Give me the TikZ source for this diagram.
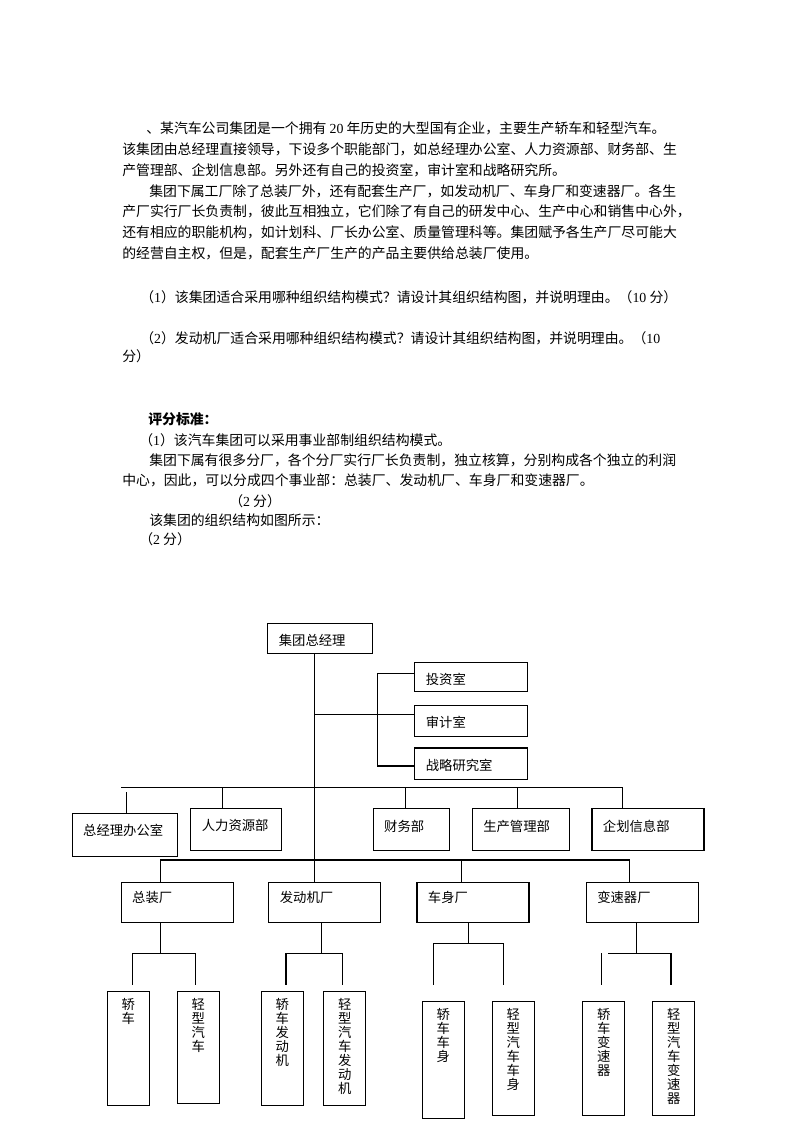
\documentclass[tikz,border=0pt]{standalone}
\usepackage{fontspec}
\setmainfont{Noto Sans CJK SC}
\newfontfamily\lat{Liberation Serif}
\usetikzlibrary{positioning}

\newcommand\bodyfont{\fontsize{10.4pt}{12pt}\selectfont}
\newcommand\boxfont{\fontsize{10pt}{12pt}\selectfont}
\newcommand\colfont{\fontsize{10pt}{10.5pt}\selectfont}

\tikzset{
  link/.style={line width=0.8pt, line cap=rect},
  txt/.style={anchor=base west, inner sep=0pt, font=\bodyfont},
  box/.code n args={3}{%
    \pgfmathsetlengthmacro\boxw{(#1-22)*0.75pt}%
    \pgfmathsetlengthmacro\boxht{#3*0.75pt}%
    \pgfmathsetlengthmacro\boxdp{(#2-#3)*0.75pt}%
    \tikzset{draw, line width=0.8pt, anchor=north west, inner xsep=8.25pt,
      inner ysep=0pt, align=left, font=\boxfont,
      text width=\boxw, text height=\boxht, text depth=\boxdp}},
  col/.code={%
    \pgfmathsetlengthmacro\boxdp{(#1-17.5)*0.75pt}%
    \tikzset{draw, line width=0.8pt, anchor=north west, inner sep=0pt,
      align=center, font=\colfont, text width=31.5pt,
      text height=13.125pt, text depth=\boxdp}},
}

\begin{document}
\begin{tikzpicture}[x=0.75pt,y=-0.75pt]
\useasboundingbox (0,0) rectangle (793,1122);

% question text
\node[txt] (t_1) at (146,133.3) {、某汽车公司集团是一个拥有 {\lat 20} 年历史的大型国有企业，主要生产轿车和轻型汽车。};
\node[txt] (t_2) at (122,154.2) {该集团由总经理直接领导，下设多个职能部门，如总经理办公室、人力资源部、财务部、生};
\node[txt] (t_3) at (122,175.1) {产管理部、企划信息部。另外还有自己的投资室，审计室和战略研究所。};
\node[txt] (t_4) at (149,196) {集团下属工厂除了总装厂外，还有配套生产厂，如发动机厂、车身厂和变速器厂。各生};
\node[txt] (t_5) at (122,216.9) {产厂实行厂长负责制，彼此互相独立，它们除了有自己的研发中心、生产中心和销售中心外，};
\node[txt] (t_6) at (122,237.8) {还有相应的职能机构，如计划科、厂长办公室、质量管理科等。集团赋予各生产厂尽可能大};
\node[txt] (t_7) at (122,258.7) {的经营自主权，但是，配套生产厂生产的产品主要供给总装厂使用。};

\node[txt] (q_1) at (140,302.3) {（{\lat 1}）该集团适合采用哪种组织结构模式？请设计其组织结构图，并说明理由。（{\lat 10} 分）};
\node[txt] (q_2) at (140,343.3) {（{\lat 2}）发动机厂适合采用哪种组织结构模式？请设计其组织结构图，并说明理由。（{\lat 10}};
\node[txt] (q_3) at (122,361.3) {分）};

% answer text
\node[txt] (a_0) at (148,424.8) {\bfseries 评分标准：};
\node[txt] (a_1) at (139,445.3) {（{\lat 1}）该汽车集团可以采用事业部制组织结构模式。};
\node[txt] (a_2) at (149,465.6) {集团下属有很多分厂，各个分厂实行厂长负责制，独立核算，分别构成各个独立的利润};
\node[txt] (a_3) at (122,485.8) {中心，因此，可以分成四个事业部：总装厂、发动机厂、车身厂和变速器厂。};
\node[txt] (a_4) at (229,506.1) {（{\lat 2} 分）};
\node[txt] (a_5) at (149,525.3) {该集团的组织结构如图所示：};
\node[txt] (a_6) at (139,544.8) {（{\lat 2} 分）};

% chart boxes
\node[box={105}{29.4}{22}] (m_0) at (267.3,623.3) {集团总经理};
\node[box={112.4}{28.7}{21.7}] (s_1) at (414.3,662.3) {投资室};
\node[box={112.4}{31}{21.5}, below=9.975pt of s_1] (s_2) {审计室};
\node[box={112.4}{31.7}{22.5}, below=7.5pt of s_2] (s_3) {战略研究室};

\node[box={105}{42.4}{21.5}] (d_1) at (71.7,813.3) {总经理办公室};
\node[box={91}{41.7}{21.5}] (d_2) at (190.3,808.3) {人力资源部};
\node[box={76.6}{41.7}{22.5}] (d_3) at (372.7,808.3) {财务部};
\node[box={97.6}{41.7}{22.5}, right=16.05pt of d_3] (d_4) {生产管理部};
\node[box={112}{41.7}{22.5}, right=15.75pt of d_4] (d_5) {企划信息部};

\node[box={112}{40.6}{20.5}] (f_1) at (120.7,881.7) {总装厂};
\node[box={112}{40.6}{20.5}, right=25.95pt of f_1] (f_2) {发动机厂};
\node[box={112}{40.6}{20.5}, right=26.25pt of f_2] (f_3) {车身厂};
\node[box={112}{40.6}{20.5}, right=42.2pt of f_3] (f_4) {变速器厂};

\node[col=114] (p_1) at (106.7,991.3) {轿\\车};
\node[col=112] (p_2) at (176.7,991.3) {轻\\型\\汽\\车};
\node[col=114] (p_3) at (260.7,991.3) {轿\\车\\发\\动\\机};
\node[col=114] (p_4) at (323.3,991.3) {轻\\型\\汽\\车\\发\\动\\机};
\node[col=117] (p_5) at (421.7,1001.3) {轿\\车\\车\\身};
\node[col=114] (p_6) at (491.7,1001.3) {轻\\型\\汽\\车\\车\\身};
\node[col=114] (p_7) at (582.3,1001.3) {轿\\车\\变\\速\\器};
\node[col=114] (p_8) at (652.3,1001.3) {轻\\型\\汽\\车\\变\\速\\器};

% trunk and staff rooms
\coordinate (j_0) at (314.3,714.3);
\draw[link] (m_0.south -| j_0) -- (f_2.north -| j_0);
\draw[link] (j_0) -- (j_0 -| s_2.west);
\coordinate (b_1) at (377.3,673.3);
\coordinate (b_2) at (377.3,766);
\draw[link] (b_1 -| s_1.west) -- (b_1) -- (b_2) -- (b_2 -| s_3.west);

% departments
\coordinate (h_l) at (121.7,787.7);
\coordinate (h_r) at (622.3,787.7);
\draw[link] (h_l) -- (h_r) -- (h_r |- d_5.north);
\coordinate (g_1) at (126.7,792.7);
\draw[link] (g_1) -- (g_1 |- d_1.north);
\foreach \n/\x in {d_2/222.3, d_3/405.7, d_4/517.3}{
  \coordinate (g) at (\x,787.7);
  \draw[link] (g) -- (g |- \n.north);
}

% factories
\coordinate (k_l) at (160.7,860);
\coordinate (k_r) at (629.3,860);
\coordinate (k_3) at (461.3,860);
\draw[link] (k_l |- f_1.north) -- (k_l) -- (k_r) -- (k_r |- f_4.north);
\draw[link] (k_3) -- (k_3 |- f_3.north);

% products
\foreach \f/\xd/\yb/\xl/\xs/\xr in {f_1/160.7/953.3/132.3/132.3/195.7,
    f_2/321.7/953.3/286/286/342.3, f_3/468.7/943.3/433.7/433.7/503.3,
    f_4/636.7/953.3/608.3/601.7/671}{
  \coordinate (u) at (\xd,\yb);
  \draw[link] (u |- \f.south) -- (u);
  \draw[link] (\xl,\yb) -- (\xr,\yb) -- (\xr,984.3);
  \draw[link] (\xs,\yb) -- (\xs,984.3);
}
\end{tikzpicture}
\end{document}
